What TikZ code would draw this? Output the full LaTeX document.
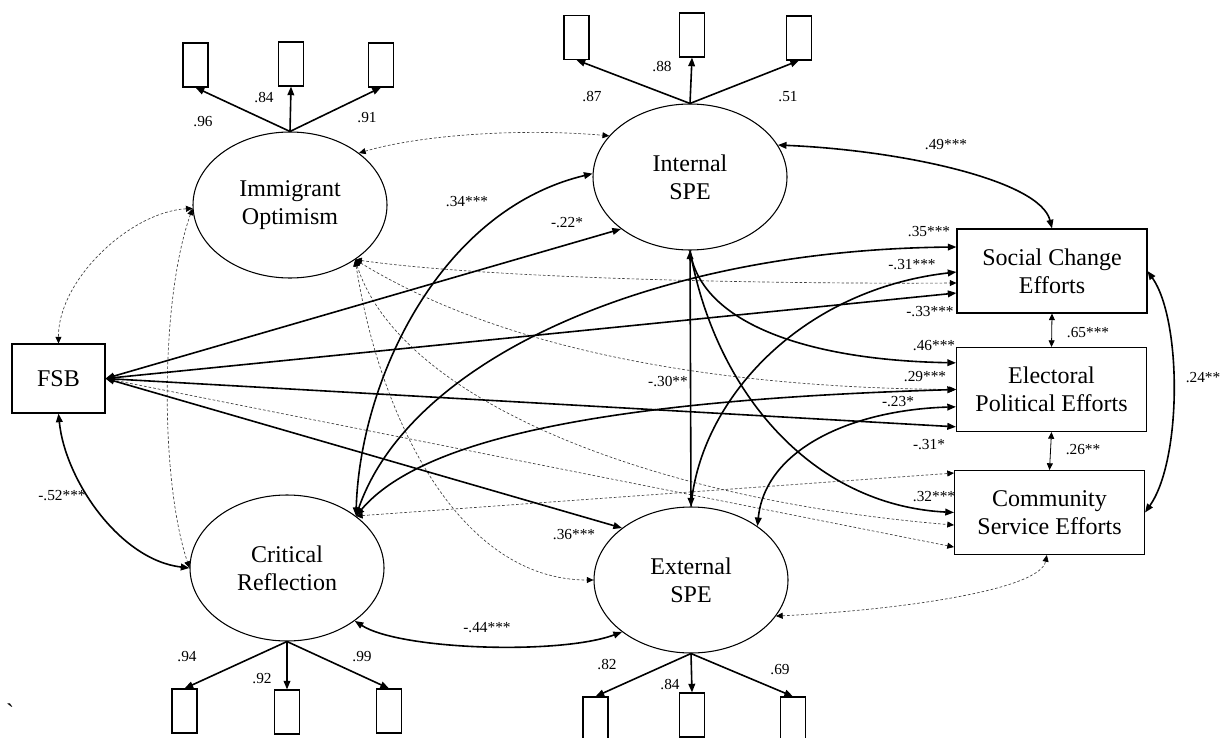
\documentclass[tikz,border=0pt]{standalone}
\usepackage{fontspec}
\setmainfont{Liberation Serif}
\newfontfamily\plainser{Liberation Serif}
\usetikzlibrary{arrows.meta,shapes.geometric}
\begin{document}
\begin{tikzpicture}[x=0.75pt,y=-0.75pt,
  lat/.style={draw, ellipse, line width=0.8pt, minimum width=145.5pt, minimum height=109.5pt, inner sep=0pt, align=center, font=\fontsize{18}{21}\selectfont},
  obs/.style={draw, rectangle, line width=0.8pt, inner sep=0pt, align=center, font=\fontsize{18}{21}\selectfont},
  outc/.style={obs, minimum width=142.5pt, minimum height=63pt},
  ind/.style={draw, rectangle, line width=0.8pt, minimum width=18.75pt, minimum height=33pt, inner sep=0pt},
  coef/.style={font=\fontsize{11.5}{13}\selectfont, inner sep=0pt},
  sol/.style={line width=1.2pt, -{Triangle[length=6.5pt,width=5pt]}},
  solb/.style={line width=1.2pt, {Triangle[length=6.5pt,width=5pt]}-{Triangle[length=6.5pt,width=5pt]}},
  dsh/.style={line width=0.5pt, draw=black!75, dash pattern=on 2pt off 1.5pt, {Triangle[length=5pt,width=4.5pt,color=black]}-{Triangle[length=5pt,width=4.5pt,color=black]}},
  thinb/.style={line width=0.6pt, {Triangle[length=5pt,width=4.5pt]}-{Triangle[length=5pt,width=4.5pt]}},
]
\fill[white] (0,0) rectangle (1223,738);
\useasboundingbox (0,0) rectangle (1223,738);

% latent variables
\node[lat] (io) at (290,205) {Immigrant\\Optimism};
\node[lat] (int) at (690,177) {Internal\\SPE};
\node[lat] (cr) at (287,568) {Critical\\Reflection};
\node[lat] (ext) at (691,580) {External\\SPE};

% observed
\node[obs, minimum width=69.75pt, minimum height=51.75pt] (fsb) at (58.5,378.5) {FSB};
\node[outc] (sce) at (1052,271) {Social Change\\Efforts};
\node[outc] (epe) at (1051.5,389.5) {Electoral\\Political Efforts};
\node[outc] (cse) at (1049.5,512.5) {Community\\Service Efforts};

% indicators
\node[ind] (io1) at (195.5,65) {};
\node[ind] (io2) at (291,64) {};
\node[ind] (io3) at (381,65) {};
\node[ind] (in1) at (576.5,37.5) {};
\node[ind] (in2) at (692,35) {};
\node[ind] (in3) at (799,38) {};
\node[ind] (cr1) at (184.5,711) {};
\node[ind] (cr2) at (287,712) {};
\node[ind] (cr3) at (389,711) {};
\node[ind] (ex1) at (595.5,719) {};
\node[ind] (ex2) at (692,715) {};
\node[ind] (ex3) at (793,719) {};

\draw[sol] (io.north) -- (io1.south);
\draw[sol] (io.north) -- (io2.south);
\draw[sol] (io.north) -- (io3.south);
\draw[sol] (int.north) -- (in1.south);
\draw[sol] (int.north) -- (in2.south);
\draw[sol] (int.north) -- (in3.south);
\draw[sol] (cr.south) -- (cr1.north);
\draw[sol] (cr.south) -- (cr2.north);
\draw[sol] (cr.south) -- (cr3.north);
\draw[sol] (ext.south) -- (ex1.north);
\draw[sol] (ext.south) -- (ex2.north);
\draw[sol] (ext.south) -- (ex3.north);

% loadings
\node[coef] at (203,122) {.96};
\node[coef] at (264,98) {.84};
\node[coef] at (367,118) {.91};
\node[coef] at (592,97) {.87};
\node[coef] at (662,67) {.88};
\node[coef] at (788,97) {.51};
\node[coef] at (187,657) {.94};
\node[coef] at (262,679) {.92};
\node[coef] at (362,657) {.99};
\node[coef] at (607,665) {.82};
\node[coef] at (670,685) {.84};
\node[coef] at (780,670) {.69};

% dashed (non-significant) paths
\draw[dsh] (io.37) .. controls (420,135) and (520,128) .. (int.153);
\draw[dsh] (io.182) .. controls (130,212) and (58,280) .. (fsb.north);
\draw[dsh] (io.182) .. controls (160,300) and (160,480) .. (cr.180);
\draw[dsh] (io.-40) .. controls (500,280) and (800,284) .. ([yshift=-9pt]sce.west);
\draw[dsh] (io.-40) .. controls (520,360) and (750,388) .. (epe.west);
\draw[dsh] (io.-40) .. controls (400,400) and (650,500) .. ([yshift=-9.4pt]cse.west);
\draw[dsh] (io.-40) .. controls (380,420) and (460,580) .. (ext.180);
\draw[dsh] (fsb.east) -- ([yshift=-25.9pt]cse.west);
\draw[dsh] (cr.37) -- ([yshift=29.6pt]cse.west);
\draw[dsh] (ext.-23) .. controls (900,610) and (1040,590) .. ([xshift=-2pt]cse.south);

% solid paths
\draw[solb] (fsb.south) .. controls (65,480) and (120,560) .. (cr.180);
\draw[solb] (cr.37) .. controls (360,380) and (440,210) .. (int.178);
\draw[solb] (cr.37) .. controls (410,360) and (650,250) .. ([yshift=18pt]sce.west);
\draw[solb] (cr.37) .. controls (420,440) and (600,400) .. (epe.west);
\draw[solb] (fsb.east) -- (int.-143);
\draw[solb] (fsb.east) -- ([yshift=-16.5pt]sce.west);
\draw[solb] (fsb.east) -- ([yshift=-28pt]epe.west);
\draw[solb] (fsb.east) -- (ext.143);
\draw[solb] (int.south) -- (ext.north);
\draw[sol] (int.south) .. controls (700,320) and (800,360) .. ([yshift=20pt]epe.west);
\draw[sol] (int.south) .. controls (715,390) and (810,505) .. (cse.west);
\draw[sol] (ext.north) .. controls (700,400) and (800,290) .. ([yshift=-0.75pt]sce.west);
\draw[solb] ([yshift=-13pt]epe.west) .. controls (850,410) and (765,450) .. (ext.39);
\draw[solb] (cr.-38) .. controls (400,650) and (560,655) .. (ext.-143);
\draw[solb] (int.20) .. controls (900,150) and (1040,180) .. (sce.north);
\draw[solb] (sce.east) .. controls (1182,320) and (1182,460) .. (cse.east);
\draw[thinb] (sce.south) -- (epe.north);
\draw[thinb] (epe.south) -- (cse.north);

% coefficients
\node[coef] at (946,145) {.49***};
\node[coef] at (929,232) {.35***};
\node[coef] at (912,265) {-.31***};
\node[coef] at (930,312) {-.33***};
\node[coef] at (1088,333) {.65***};
\node[coef] at (934,346) {.46***};
\node[coef] at (925,377) {.29***};
\node[coef] at (898,402) {-.23*};
\node[coef] at (929,445) {-.31*};
\node[coef] at (1083,450) {.26**};
\node[coef] at (934,497) {.32***};
\node[coef] at (1203,378) {.24**};
\node[coef] at (467,202) {.34***};
\node[coef] at (567,223) {-.22*};
\node[coef] at (668,382) {-.30**};
\node[coef] at (574,535) {.36***};
\node[coef] at (487,628) {-.44***};
\node[coef] at (62,496) {-.52***};

\node[font=\plainser\fontsize{18}{18}\selectfont, inner sep=0pt] (tick) at (10,712) {`};
\end{tikzpicture}
\end{document}
